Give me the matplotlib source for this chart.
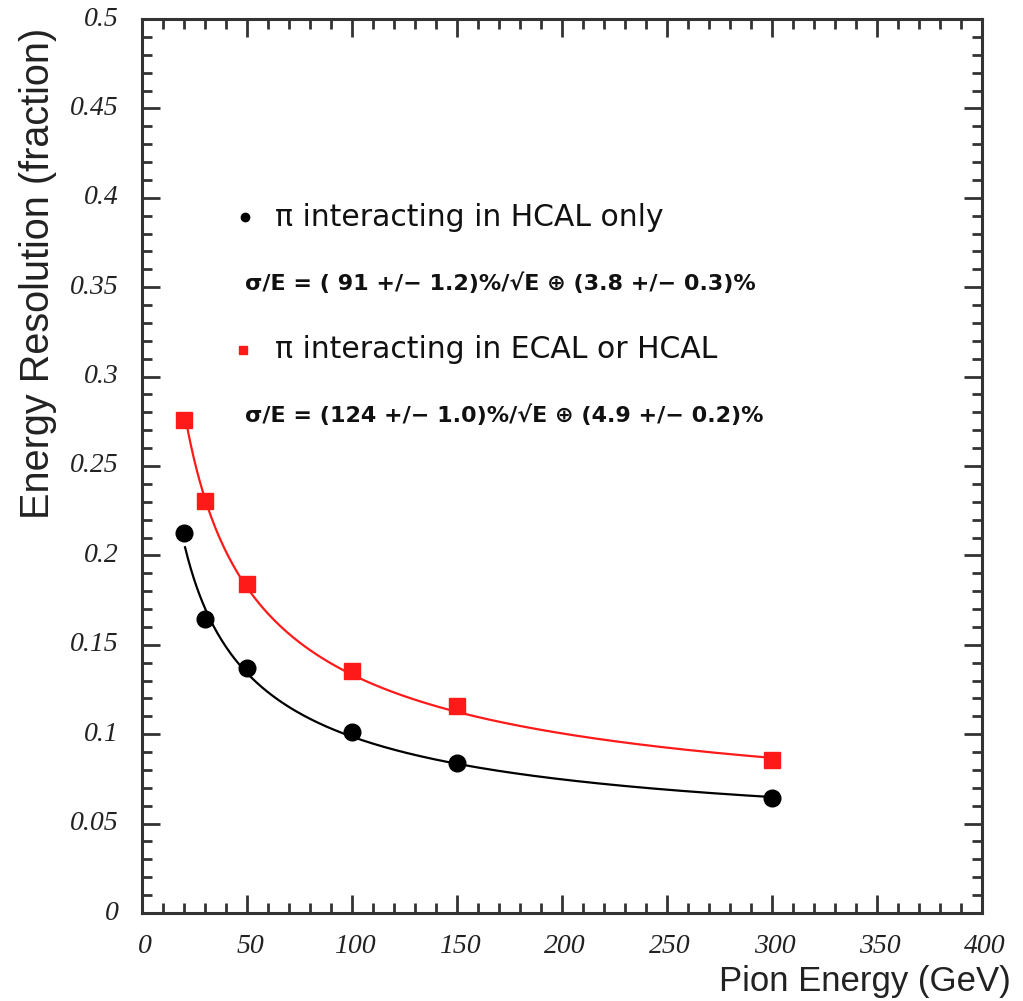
import numpy as np
import matplotlib
matplotlib.use("Agg")
import matplotlib.pyplot as plt
from matplotlib.ticker import MultipleLocator

# Measured resolution per beam energy
energy = [20, 30, 50, 100, 150, 300]
res_hcal_only = [0.2125, 0.1644, 0.1370, 0.1012, 0.0839, 0.0643]
res_ecal_or_hcal = [0.2757, 0.2304, 0.1840, 0.1353, 0.1158, 0.0856]

# Fit parameters: stochastic term (%), constant term (%)
fit_hcal_only = (91.0, 3.8)
fit_ecal_or_hcal = (124.0, 4.9)

label_hcal_only = "π interacting in HCAL only"
label_ecal_or_hcal = "π interacting in ECAL or HCAL"
formula_hcal_only = "σ/E = ( 91 +/− 1.2)%/√E ⊕ (3.8 +/− 0.3)%"
formula_ecal_or_hcal = "σ/E = (124 +/− 1.0)%/√E ⊕ (4.9 +/− 0.2)%"


def resolution(e, stoch, const):
    return np.hypot(stoch / 100.0 / np.sqrt(e), const / 100.0)


fig = plt.figure(figsize=(10.23, 10.01), dpi=100)
ax = fig.add_axes([142 / 1023, 1 - 913 / 1001, 840 / 1023, 894 / 1001])

e_fine = np.linspace(20.5, 300, 400)
ax.plot(e_fine, resolution(e_fine, *fit_ecal_or_hcal), color="#ff1a1a", lw=1.6, zorder=2)
ax.plot(e_fine, resolution(e_fine, *fit_hcal_only), color="black", lw=1.6, zorder=2)
ax.plot(energy, res_ecal_or_hcal, ls="none", marker="s", ms=11, color="#ff1a1a", zorder=3)
ax.plot(energy, res_hcal_only, ls="none", marker="o", ms=12, color="black", zorder=3)

ax.set_xlim(0, 400)
ax.set_ylim(0, 0.5)
ax.xaxis.set_major_locator(MultipleLocator(50))
ax.xaxis.set_minor_locator(MultipleLocator(10))
ax.yaxis.set_major_locator(MultipleLocator(0.05))
ax.yaxis.set_minor_locator(MultipleLocator(0.01))
ax.set_xticklabels([])
ax.set_yticklabels([])

axis_col = "#333333"
for sp in ax.spines.values():
    sp.set_linewidth(2.2)
    sp.set_color(axis_col)
ax.tick_params(which="both", direction="in", top=True, right=True, color=axis_col)
ax.tick_params(which="major", length=13, width=2.0)
ax.tick_params(which="minor", length=7, width=2.0)

tick_font = dict(family="Liberation Serif", style="italic", size=20, color="#222222")
for v in np.arange(0, 401, 50):
    ax.text(v + 1.5, -0.012, f"{v:g}", ha="center", va="top", **tick_font)
for v in np.arange(0, 0.501, 0.05):
    ax.text(-11, v, f"{round(v, 2):g}", ha="right", va="center", **tick_font)

ax.text(0.861, -0.077, "Pion Energy (GeV)", transform=ax.transAxes, ha="center",
        va="center", family="Liberation Sans", size=25, color="#222222")
ax.text(-0.124, 0.716, "Energy Resolution (fraction)", transform=ax.transAxes,
        rotation=90, ha="center", va="center", family="Liberation Sans", size=28.5,
        color="#222222")

# Legend entries drawn inside the frame
ax.plot([49], [0.389], marker="o", ms=6, color="black", ls="none")
ax.text(63.3, 0.389, label_hcal_only, ha="left", va="center",
        family="DejaVu Sans", size=21.5, color="#111111")
ax.text(49, 0.352, formula_hcal_only, ha="left", va="center",
        family="DejaVu Sans", weight="bold", size=16, color="#111111")
ax.plot([48], [0.315], marker="s", ms=6, color="#ff1a1a", ls="none")
ax.text(63.3, 0.315, label_ecal_or_hcal, ha="left", va="center",
        family="DejaVu Sans", size=21.5, color="#111111")
ax.text(49, 0.2785, formula_ecal_or_hcal, ha="left", va="center",
        family="DejaVu Sans", weight="bold", size=16, color="#111111")

fig.savefig("out.png", dpi=100)
